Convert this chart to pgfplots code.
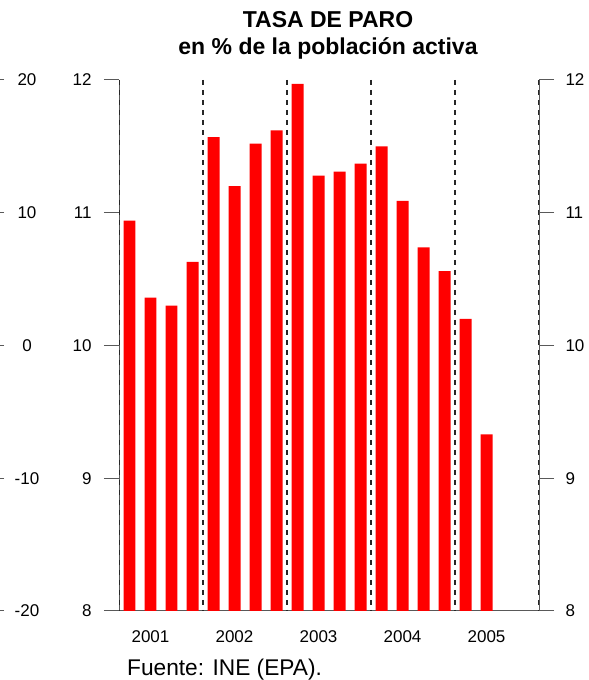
\documentclass[border=0pt]{standalone}
\usepackage{fontspec}
\setmainfont{Liberation Sans}
\usepackage{pgfplots}
\pgfplotsset{compat=1.18}
\definecolor{axgray}{gray}{0.35}
\definecolor{dashgray}{gray}{0.15}
\begin{document}
\begin{tikzpicture}[x=1bp,y=1bp]
\useasboundingbox (0,0) rectangle (589,680);
\pgfplotsset{
  every tick label/.append style={font=\fontsize{17bp}{20bp}\selectfont, text=black},
  /pgf/number format/assume math mode=true,
}
% outer (cut-off) left scale
\begin{axis}[
  at={(-12bp,69bp)}, anchor=south west, scale only axis,
  width=1bp, height=531bp,
  xmin=0, xmax=1, ymin=-20, ymax=20,
  axis x line=none, axis y line*=right,
  y axis line style={draw=none},
  ytick={-20,-10,0,10,20},
  tick align=outside, major tick length=15bp,
  ytick style={axgray, line width=1bp},
  yticklabel style={anchor=center, xshift=23bp},
]
\addplot[draw=none] coordinates {(0,0)};
\end{axis}
% right-hand labels of the main scale
\begin{axis}[
  at={(119bp,69bp)}, anchor=south west, scale only axis,
  width=420bp, height=531bp,
  xmin=0, xmax=20, ymin=8, ymax=12,
  axis x line=none, axis y line*=right,
  y axis line style={draw=none},
  ytick={8,9,10,11,12},
  tick align=outside, major tick length=15bp,
  ytick style={draw=none},
  yticklabel style={xshift=8bp},
]
\addplot[draw=none] coordinates {(0,10)};
\end{axis}
% main axis
\begin{axis}[
  at={(119bp,69bp)}, anchor=south west, scale only axis,
  width=420bp, height=531bp,
  xmin=0, xmax=20, ymin=8, ymax=12,
  axis x line*=bottom, axis y line*=box,
  ytick={8,9,10,11,12},
  tick align=outside, major tick length=15bp,
  ytick pos=both,
  ytick style={axgray, line width=1bp},
  axis line style={axgray, line width=1bp},
  yticklabel style={xshift=-9bp},
  xtick={1.5,5.5,9.5,13.5,17.5},
  xticklabels={2001,2002,2003,2004,2005},
  xtick style={draw=none},
  xticklabel style={anchor=base, yshift=-16bp},
  ybar, bar width=0.571, bar shift=0pt,
]
\addplot[fill=red, draw=none] coordinates {
(0.5,10.94) (1.5,10.36) (2.5,10.30) (3.5,10.63)
(4.5,11.57) (5.5,11.20) (6.5,11.52) (7.5,11.62)
(8.5,11.97) (9.5,11.28) (10.5,11.31) (11.5,11.37)
(12.5,11.50) (13.5,11.09) (14.5,10.74) (15.5,10.56)
(16.5,10.20) (17.5,9.33)
};
\foreach \xx in {0,4,8,12,16,20}{
  \edef\temp{\noexpand\draw[dashgray, line width=1.2bp, dash pattern=on 5bp off 5bp] (axis cs:\xx,12) -- (axis cs:\xx,8);}
  \temp
}
\end{axis}
\node[anchor=base, font=\fontsize{23bp}{27bp}\selectfont\bfseries] at (328,652) {TASA DE PARO};
\node[anchor=base, font=\fontsize{23bp}{27bp}\selectfont\bfseries] at (328,625) {en \% de la población activa};
\node[anchor=base west, inner sep=0pt, font=\fontsize{22.7bp}{26bp}\selectfont] at (127,4) {Fuente: INE (EPA).};
\end{tikzpicture}
\end{document}
